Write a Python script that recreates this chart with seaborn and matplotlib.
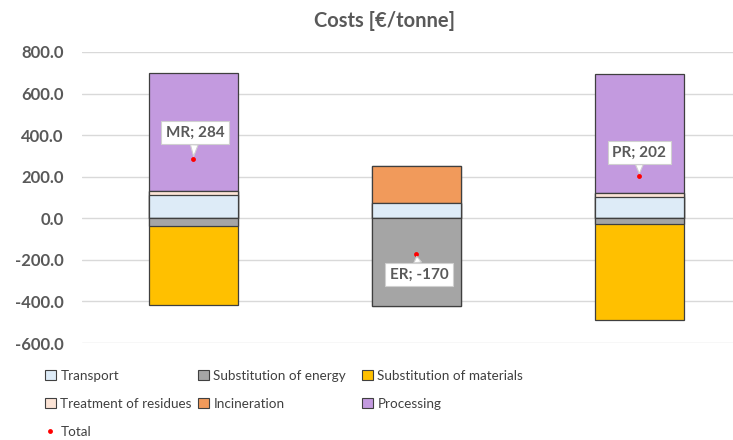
import numpy as np
import pandas as pd
import matplotlib
matplotlib.use("Agg")
import matplotlib.pyplot as plt
from matplotlib.patches import Patch
from matplotlib.lines import Line2D
import seaborn as sns

# Cost components per recycling route [EUR/tonne]
routes = ["MR", "ER", "PR"]
transport = [110, 75, 102]
substitution_energy = [-36, -420, -27]
substitution_materials = [-380, 0, -463]
treatment_residues = [22, 0, 18]
incineration = [0, 175, 0]
processing = [568, 0, 572]
totals = [284, -170, 202]

y_ticks = [-600, -400, -200, 0, 200, 400, 600, 800]

colors = {
    "Transport": "#DDEBF7",
    "Substitution of energy": "#A5A5A5",
    "Substitution of materials": "#FFC000",
    "Treatment of residues": "#FCE4D6",
    "Incineration": "#F19A5B",
    "Processing": "#C39ADF",
}

sns.set_theme(style="white")
plt.rcParams["font.family"] = ["Lato", "DejaVu Sans"]

text_grey = "#595959"

fig = plt.figure(figsize=(7.33, 4.4), dpi=100)
ax = fig.add_axes([82 / 733, 1 - 343 / 440, 1 - 82 / 733, (343 - 52) / 440])

# Positive and negative parts are stacked separately (as in a stacked column chart)
pos_layers = [("Transport", transport), ("Treatment of residues", treatment_residues),
              ("Incineration", incineration), ("Processing", processing)]
neg_layers = [("Substitution of energy", substitution_energy),
              ("Substitution of materials", substitution_materials)]

def cumulative(layers):
    cum = np.zeros(len(routes))
    out = []
    for name, vals in layers:
        cum = cum + np.array(vals, dtype=float)
        out.append((name, cum.copy()))
    return out

# Draw cumulative heights from the outermost layer inwards so each inner layer covers the next
for name, cum in reversed(cumulative(pos_layers)):
    sns.barplot(x=routes, y=cum, color=colors[name], width=0.4, saturation=1,
                edgecolor="#3F3F3F", linewidth=0.9, ax=ax, zorder=3)
for name, cum in reversed(cumulative(neg_layers)):
    sns.barplot(x=routes, y=cum, color=colors[name], width=0.4, saturation=1,
                edgecolor="#3F3F3F", linewidth=0.9, ax=ax, zorder=3)

# Net total per route
sns.stripplot(x=routes, y=totals, jitter=False, color="#FF0000", size=3.5,
              linewidth=0, ax=ax, zorder=5)

offsets = {"MR": (1, 19), "ER": (2, -15), "PR": (0, 17)}
for i, (r, t) in enumerate(zip(routes, totals)):
    ax.annotate(f"{r}; {t}", xy=(i, t), xytext=offsets[r], textcoords="offset points",
                ha="center", va="center", fontsize=11, fontweight="bold", color=text_grey,
                bbox=dict(boxstyle="square,pad=0.3", fc="white", ec="#D0D0D0", lw=0.8),
                arrowprops=dict(arrowstyle="wedge,tail_width=0.5,shrink_factor=0.5",
                                fc="white", ec="#D0D0D0", lw=0.8, shrinkA=0, shrinkB=2),
                zorder=6)

ax.set_xlim(-0.5, 2.42)
ax.set_ylim(-600, 800)
ax.set_yticks(y_ticks)
ax.set_yticklabels([f"{v:.1f}" for v in y_ticks], fontsize=12, fontweight="bold", color=text_grey)
ax.tick_params(axis="y", length=0, pad=13)
ax.tick_params(axis="x", length=0, labelbottom=False)
ax.set_xlabel("")
ax.set_ylabel("")
ax.grid(axis="y", color="#D9D9D9", linewidth=1, zorder=0)
ax.set_axisbelow(True)
for s in ax.spines.values():
    s.set_visible(False)

fig.text(385 / 733, 1 - 21 / 440, "Costs [€/tonne]", ha="center", va="center",
         fontsize=14.5, fontweight="bold", color=text_grey)

def sq(name):
    return Patch(facecolor=colors[name], edgecolor="#404040", linewidth=0.8)

total_handle = Line2D([], [], marker="o", color="none", markerfacecolor="#FF0000",
                      markeredgewidth=0, markersize=3.5)

# Legend laid out as three fixed columns
legend_columns = [
    (45, [sq("Transport"), sq("Treatment of residues"), total_handle],
     ["Transport", "Treatment of residues", "Total"]),
    (198, [sq("Substitution of energy"), sq("Incineration")],
     ["Substitution of energy", "Incineration"]),
    (362, [sq("Substitution of materials"), sq("Processing")],
     ["Substitution of materials", "Processing"]),
]
for x0, hs, ls in legend_columns:
    fig.legend(hs, ls, ncol=1, loc="upper left", bbox_to_anchor=(x0 / 733, 1 - 370 / 440),
               frameon=False, fontsize=9.7, labelcolor="#404040", handlelength=0.8,
               handleheight=0.8, handletextpad=0.35, labelspacing=1.17,
               borderaxespad=0, borderpad=0)

fig.savefig("out.png", dpi=100)
